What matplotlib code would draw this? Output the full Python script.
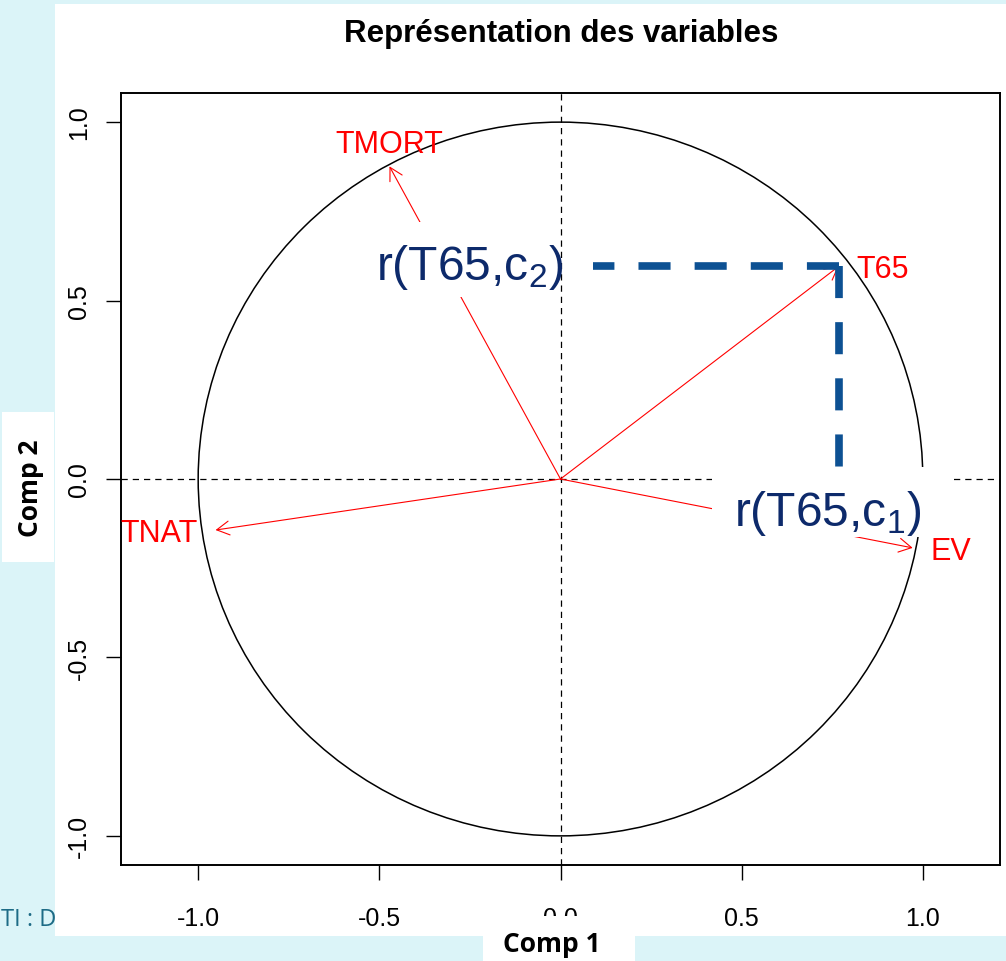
import numpy as np
import matplotlib.pyplot as plt
from matplotlib.patches import Rectangle, Circle

plt.rcParams['font.family'] = ['Liberation Sans', 'DejaVu Sans']
plt.rcParams['axes.unicode_minus'] = False

# correlations of the variables with the first two components
variables = ['TMORT', 'T65', 'EV', 'TNAT']
comp1 = [-0.472, 0.768, 0.972, -0.952]
comp2 = [0.876, 0.596, -0.193, -0.143]
highlight = 'T65'

ticks = [-1.0, -0.5, 0.0, 0.5, 1.0]
tick_labels = ['-1.0', '-0.5', '0.0', '0.5', '1.0']

W, H = 1006, 962
fig = plt.figure(figsize=(W / 100, H / 100), dpi=100, facecolor='#dbf4f8')

# slide footer, mostly hidden under the pasted plot
fig.text(1 / W, (H - 920) / H, 'TI : D', family=['Open Sans', 'DejaVu Sans'],
         fontsize=17, color='#1d6b86', ha='left', va='center', zorder=-2)

# white panel of the pasted plot
fig.add_artist(Rectangle((55 / W, (H - 937) / H), (W - 55) / W, (937 - 5) / H,
                         transform=fig.transFigure, fc='white', ec='none', zorder=-1))

ax = fig.add_axes([121 / W, (H - 866) / H, (1000 - 121) / W, (866 - 94) / H])
ax.set_facecolor('white')
ax.set_xlim(-1.213, 1.213)
ax.set_ylim(-1.0816, 1.0816)

for s in ax.spines.values():
    s.set_linewidth(1.4)

ax.set_xticks(ticks)
ax.set_xticklabels(tick_labels)
ax.set_yticks(ticks)
ax.set_yticklabels(tick_labels, rotation=90, va='center')
ax.tick_params(length=10.5, width=1.0, labelsize=18, direction='out')
ax.tick_params(axis='x', pad=19)
ax.tick_params(axis='y', pad=11)

# unit circle and axes through the origin
ax.add_patch(Circle((0, 0), 1, fill=False, ec='black', lw=1.1, zorder=2))
ax.axhline(0, color='black', lw=0.9, linestyle=(0, (5, 4)), zorder=1)
ax.axvline(0, color='black', lw=0.9, linestyle=(0, (5, 4)), zorder=1)

for name, x, y in zip(variables, comp1, comp2):
    ax.annotate('', xy=(x, y), xytext=(0, 0),
                arrowprops=dict(arrowstyle='->,head_length=0.45,head_width=0.25',
                                color='red', lw=0.8, shrinkA=0, shrinkB=0,
                                mutation_scale=20),
                zorder=3)
    # put the name on the side the arrow points to, like R's text(pos=)
    if abs(y) > abs(x):
        ax.annotate(name, xy=(x, y), xytext=(0, 10), textcoords='offset points',
                    ha='center', va='baseline', color='red', fontsize=22, zorder=3)
    elif x > 0:
        ax.annotate(name, xy=(x, y), xytext=(13, -8), textcoords='offset points',
                    ha='left', va='baseline', color='red', fontsize=22, zorder=3)
    else:
        ax.annotate(name, xy=(x, y), xytext=(-13, -8), textcoords='offset points',
                    ha='right', va='baseline', color='red', fontsize=22, zorder=3)

# projections of the highlighted variable on both components
i = variables.index(highlight)
hx, hy = comp1[i], comp2[i]
guide = dict(color='#0d5193', lw=5.5, linestyle=(0, (4.2, 3.15)),
             dash_capstyle='butt', zorder=4)
ax.plot([hx, 0.09], [hy, hy], **guide)
ax.plot([hx, hx], [hy, 0], **guide)

# pasted text boxes (white fill hides what is under them)
lab2 = (-0.251, hy)
lab1 = (hx - 0.03, -0.093)
ax.add_patch(Rectangle((lab2[0] - 0.276, lab2[1] - 0.086), 0.32, 0.21,
                       fc='white', ec='none', zorder=5))
ax.add_patch(Rectangle((lab1[0] - 0.32, lab1[1] - 0.07), 0.66, 0.197,
                       fc='white', ec='none', zorder=5))
ax.text(lab2[0], lab2[1], 'r(%s,c$\\mathregular{_2}$)' % highlight, fontsize=34.5,
        color='#0d2a6b', ha='center', va='center', zorder=6)
ax.text(lab1[0], lab1[1], 'r(%s,c$\\mathregular{_1}$)' % highlight, fontsize=34.5,
        color='#0d2a6b', ha='center', va='center', zorder=6)

fig.text(561.5 / W, (H - 42) / H, 'Représentation des variables',
         ha='center', va='baseline', fontsize=22.5, fontweight='bold')

# axis name boxes pasted over the slide
fig.add_artist(Rectangle((483 / W, 0), (635 - 483) / W, (962 - 917) / H,
                         transform=fig.transFigure, fc='white', ec='none', zorder=2))
fig.text(552 / W, (H - 945) / H, 'Comp 1', family=['Open Sans', 'DejaVu Sans'],
         fontweight='bold', fontsize=19, ha='center', va='center', zorder=3)
fig.add_artist(Rectangle((2 / W, (H - 563) / H), (54 - 2) / W, (563 - 413) / H,
                         transform=fig.transFigure, fc='white', ec='none', zorder=2))
fig.text(30 / W, (H - 488) / H, 'Comp 2', family=['Open Sans', 'DejaVu Sans'],
         fontweight='bold', fontsize=19, rotation=90, ha='center', va='center', zorder=3)

fig.savefig('out.png', dpi=100, facecolor=fig.get_facecolor())
